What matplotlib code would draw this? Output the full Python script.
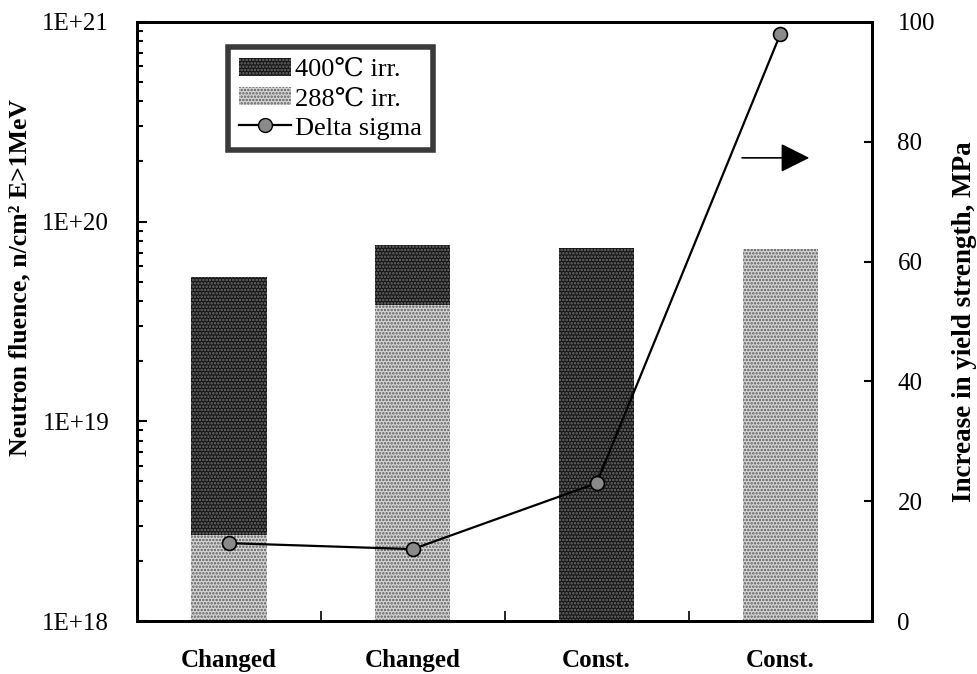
import numpy as np
import matplotlib
matplotlib.use("Agg")
import matplotlib.pyplot as plt
from matplotlib.patches import Patch
from matplotlib.lines import Line2D
from matplotlib.ticker import FixedLocator, LogLocator, NullFormatter

plt.rcParams['font.family'] = ['Liberation Serif', 'DejaVu Serif', 'DejaVu Sans']
plt.rcParams['hatch.linewidth'] = 1.2

categories = ["Changed", "Changed", "Const.", "Const."]
fluence_288 = [2.7e18, 3.8e19, 0.0, 7.3e19]   # n/cm2, lower segment
fluence_400 = [5.0e19, 3.8e19, 7.4e19, 0.0]   # n/cm2, stacked on top
delta_sigma = [13, 12, 23, 98]                 # MPa

x = np.arange(len(categories))
width = 0.41

dark_face, dark_dots = '#161616', '#6e6e6e'
light_face, light_dots = '#d6d6d6', '#5a5a5a'

fig = plt.figure(figsize=(9.78, 6.74), dpi=100)
ax = fig.add_axes([0.140, 0.0786, 0.752, 0.889])
ax.set_yscale('log')

ax.bar(x, fluence_288, width, facecolor=light_face, edgecolor=light_dots,
       hatch='.....', linewidth=0, zorder=2)
ax.bar(x, fluence_400, width, bottom=fluence_288, facecolor=dark_face,
       edgecolor=dark_dots, hatch='.....', linewidth=0, zorder=2)

ax.set_xlim(-0.5, 3.5)
ax.set_ylim(1e18, 1e21)
ax.yaxis.set_major_locator(FixedLocator([1e18, 1e19, 1e20, 1e21]))
ax.set_yticklabels(["1E+18", "1E+19", "1E+20", "1E+21"], fontsize=18)
ax.yaxis.set_minor_locator(LogLocator(base=10, subs=np.arange(2, 10)))
ax.yaxis.set_minor_formatter(NullFormatter())
ax.tick_params(axis='y', which='both', direction='in', right=False, width=1.5)
ax.tick_params(axis='y', which='major', length=7, pad=20)
ax.tick_params(axis='y', which='minor', length=4)

# category labels sit under the bars, tick marks sit between them
ax.set_xticks(x)
ax.set_xticklabels(categories, fontsize=18, fontweight='bold')
ax.tick_params(axis='x', which='major', length=0, pad=20)
ax.set_xticks([0.5, 1.5, 2.5], minor=True)
ax.tick_params(axis='x', which='minor', direction='in', length=7, width=1.2, top=False)

ax.set_ylabel("Neutron fluence, n/cm² E>1MeV", fontsize=18.5, fontweight='bold')
ax.yaxis.set_label_coords(-0.143, 0.574)
for s in ax.spines.values():
    s.set_linewidth(2)

ax2 = ax.twinx()
ax2.plot(x, delta_sigma, color='black', linewidth=1.6, marker='o', markersize=10,
         markerfacecolor='#8a8a8a', markeredgecolor='black', markeredgewidth=1.2,
         zorder=3)
ax2.set_ylim(0, 100)
ax2.set_yticks([0, 20, 40, 60, 80, 100])
ax2.tick_params(axis='y', direction='in', length=6, width=1.5, labelsize=18, pad=18)
ax2.set_ylabel("Increase in yield strength, MPa", fontsize=19.5, fontweight='bold',
               labelpad=12)
for s in ax2.spines.values():
    s.set_linewidth(2)

# arrow pointing to the right-hand axis
ax2.annotate('', xy=(0.918, 0.773), xytext=(0.819, 0.773),
             xycoords='axes fraction', textcoords='axes fraction',
             arrowprops=dict(arrowstyle='-|>,head_length=1.8,head_width=0.9',
                             color='black', facecolor='#4a4a4a', linewidth=1.2))

handles = [
    Patch(facecolor=dark_face, edgecolor=dark_dots, hatch='.....', linewidth=0),
    Patch(facecolor=light_face, edgecolor=light_dots, hatch='.....', linewidth=0),
    Line2D([], [], color='black', linewidth=1.6, marker='o', markersize=10,
           markerfacecolor='#8a8a8a', markeredgecolor='black'),
]
leg = ax2.legend(handles, ["400℃ irr.", "288℃ irr.", "Delta sigma"],
                 loc='upper left', bbox_to_anchor=(0.124, 0.958), fontsize=19,
                 fancybox=False, framealpha=1, borderpad=0.4, labelspacing=0.22,
                 handlelength=2.0, handletextpad=0.15, borderaxespad=0)
leg.get_frame().set_edgecolor('#3a3a3a')
leg.get_frame().set_linewidth(4)

fig.savefig("out.png", dpi=100)
